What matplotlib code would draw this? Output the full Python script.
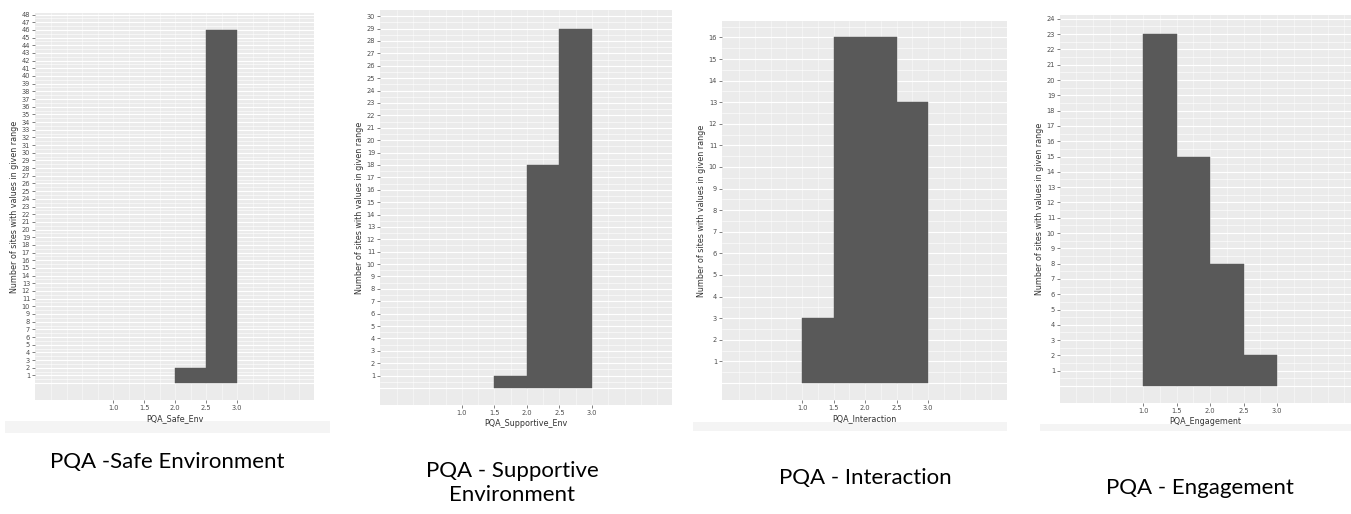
import matplotlib.pyplot as plt
from matplotlib.patches import Rectangle
import numpy as np

# histogram bins (bin left edges, width 0.5) and counts per PQA domain
bin_width = 0.5
safe_env_bins = [2.0, 2.5]
safe_env_counts = [2, 46]
supportive_bins = [1.5, 2.0, 2.5]
supportive_counts = [1, 18, 29]
interaction_bins = [1.0, 1.5, 2.0, 2.5]
interaction_counts = [3, 16, 16, 13]
engagement_bins = [1.0, 1.5, 2.0, 2.5]
engagement_counts = [23, 15, 8, 2]

x_ticks = [1.0, 1.5, 2.0, 2.5, 3.0]
x_names = ["PQA_Safe_Env", "PQA_Supportive_Env", "PQA_Interaction", "PQA_Engagement"]
captions = ["PQA -Safe Environment", "PQA - Supportive\nEnvironment",
            "PQA - Interaction", "PQA - Engagement"]
y_max_tick = [48, 30, 16, 24]

panels = [
    # axes rect in pixels, xlim, ylim
    ([35, 13, 314, 400], (-0.26, 4.24), (-2.2, 48.2)),
    ([380, 10, 672, 405], (-0.26, 4.23), (-1.37, 30.5)),
    ([722, 21, 1007, 400], (-0.27, 4.25), (-0.79, 16.76)),
    ([1060, 15, 1351, 403], (-0.24, 4.10), (-1.11, 24.25)),
]
data = [(safe_env_bins, safe_env_counts), (supportive_bins, supportive_counts),
        (interaction_bins, interaction_counts), (engagement_bins, engagement_counts)]
caption_pos = [(167, 462), (512, 483), (865, 478), (1200, 488)]
strips = [(5, 421, 330, 433), (693, 422, 1007, 431), (1040, 424, 1351, 431)]

W, H = 1351, 514
fig = plt.figure(figsize=(W / 100, H / 100), dpi=100)
fig.patch.set_facecolor("white")

# faint bands under some of the plots
for x0, y0, x1, y1 in strips:
    fig.patches.append(Rectangle((x0 / W, 1 - y1 / H), (x1 - x0) / W, (y1 - y0) / H,
                                 transform=fig.transFigure, facecolor="#f4f4f4",
                                 edgecolor="none", zorder=-1))

for i, ((x0, y0, x1, y1), xl, yl) in enumerate(panels):
    ax = fig.add_axes([x0 / W, 1 - y1 / H, (x1 - x0) / W, (y1 - y0) / H])
    ax.set_facecolor("#EBEBEB")
    ax.set_xlim(*xl)
    ax.set_ylim(*yl)
    for s in ax.spines.values():
        s.set_visible(False)

    # ggplot-style white grid
    for y in np.arange(0, yl[1], 1):
        ax.axhline(y, color="white", lw=0.8, zorder=1)
    for y in np.arange(0.5, yl[1], 1):
        ax.axhline(y, color="white", lw=0.4, zorder=1)
    for x in np.arange(0.0, xl[1], 0.25):
        ax.axvline(x, color="white", lw=0.4, alpha=0.8, zorder=1)

    bins, counts = data[i]
    ax.bar(bins, counts, width=bin_width, align="edge", color="#595959",
           edgecolor="#595959", linewidth=0.3, zorder=2)

    ax.set_xticks(x_ticks)
    ax.set_xticklabels([f"{t:.1f}" for t in x_ticks])
    ax.set_yticks(range(1, y_max_tick[i] + 1))
    ax.tick_params(axis="both", labelsize=4.8, colors="#4D4D4D", length=2,
                   width=0.5, pad=1.5)
    ax.set_xlabel(x_names[i], fontsize=5.8, color="#333333", labelpad=2)
    ax.set_ylabel("Number of sites with values in given range", fontsize=5.8,
                  color="#333333", labelpad=2)

    cx, cy = caption_pos[i]
    fig.text(cx / W, 1 - cy / H, captions[i], ha="center", va="center",
             fontsize=16, family="Lato", color="black", linespacing=1.3)

fig.savefig("out.png", dpi=100)
